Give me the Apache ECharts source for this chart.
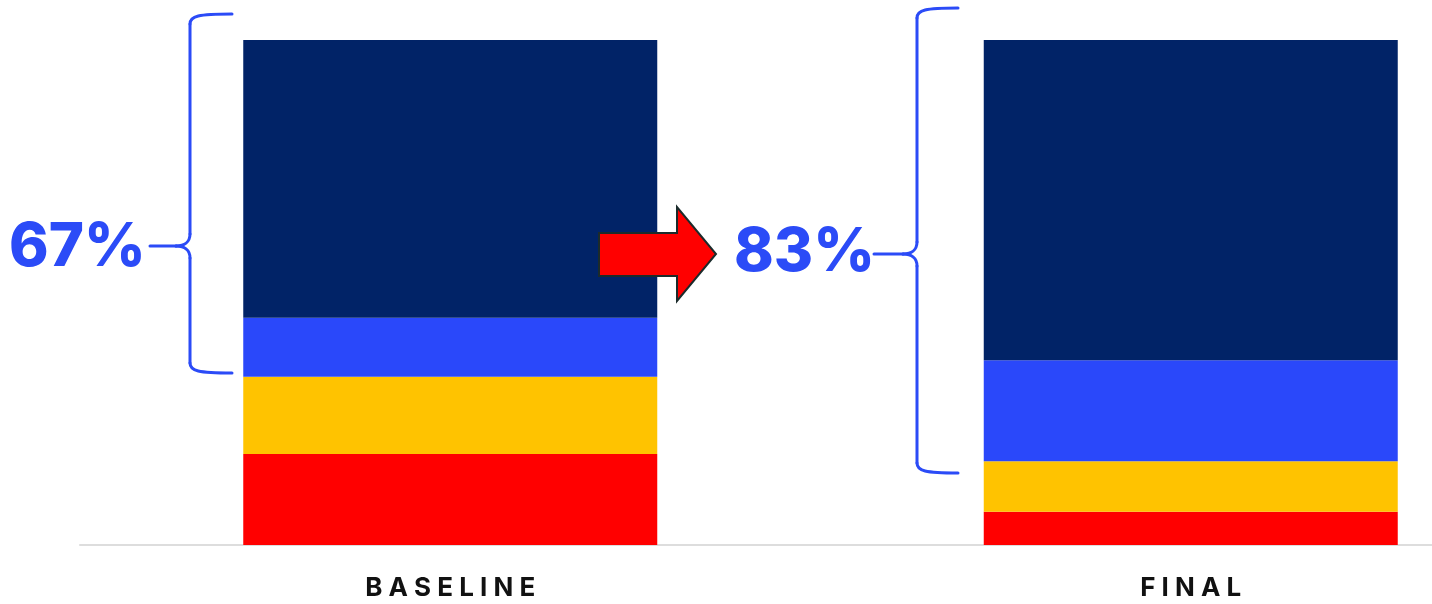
<!DOCTYPE html>
<html>
<head>
<meta charset="utf-8">
<script src="https://cdn.jsdelivr.net/npm/echarts@6/dist/echarts.min.js"></script>
<style>
  html, body { margin: 0; padding: 0; background: #fff; }
  #chart { width: 1432px; height: 604px; }
</style>
</head>
<body>
<div id="chart"></div>
<script>
// categories and stacked shares (percent), bottom to top
var categories = ['BASELINE', 'FINAL'];
var redShare    = [18, 6.6];
var yellowShare = [15.3, 10];
var blueShare   = [11.7, 20];
var navyShare   = [55, 63.4];

var blueText = '#2b4bf7';

var myChart;
document.addEventListener("DOMContentLoaded", function() {
    initChart();
});

// curly brace built from lines and curves
function brace(xv, top, tipY, bottom, hookX, tipX) {
    var st = { stroke: blueText, lineWidth: 3, fill: null, lineCap: 'round' };
    return [
        { type: 'bezierCurve', z: 100, shape: { x1: hookX, y1: top, cpx1: xv + 8, cpy1: top, cpx2: xv, cpy2: top + 2, x2: xv, y2: top + 10 }, style: st },
        { type: 'line', z: 100, shape: { x1: xv, y1: top + 10, x2: xv, y2: tipY - 12 }, style: st },
        { type: 'bezierCurve', z: 100, shape: { x1: xv, y1: tipY - 12, cpx1: xv, cpy1: tipY - 4, cpx2: xv - 6, cpy2: tipY, x2: xv - 14, y2: tipY }, style: st },
        { type: 'line', z: 100, shape: { x1: xv - 14, y1: tipY, x2: tipX, y2: tipY }, style: st },
        { type: 'bezierCurve', z: 100, shape: { x1: xv - 14, y1: tipY, cpx1: xv - 6, cpy1: tipY, cpx2: xv, cpy2: tipY + 4, x2: xv, y2: tipY + 12 }, style: st },
        { type: 'line', z: 100, shape: { x1: xv, y1: tipY + 12, x2: xv, y2: bottom - 10 }, style: st },
        { type: 'bezierCurve', z: 100, shape: { x1: xv, y1: bottom - 10, cpx1: xv, cpy1: bottom - 2, cpx2: xv + 8, cpy2: bottom, x2: hookX, y2: bottom }, style: st }
    ];
}

function initChart() {
    myChart = echarts.init(document.getElementById('chart'));

    // share held by the top two segments
    var topShare = categories.map(function (c, i) {
        return Math.round(navyShare[i] + blueShare[i]) + '%';
    });

    var graphics = []
        .concat(brace(190, 14, 246, 373, 232, 150))
        .concat(brace(917, 8, 254, 473, 958, 874));

    graphics.push({
        type: 'text', z: 100, x: 9, y: 248,
        style: { text: topShare[0], fill: blueText, font: '800 60px Inter', align: 'left', verticalAlign: 'middle' }
    });
    graphics.push({
        type: 'text', z: 100, x: 734, y: 253,
        style: { text: topShare[1], fill: blueText, font: '800 60px Inter', align: 'left', verticalAlign: 'middle' }
    });
    graphics.push({
        type: 'polygon', z: 100,
        shape: { points: [[599, 233], [677, 233], [677, 207], [716, 254], [677, 301], [677, 276], [599, 276]] },
        style: { fill: '#ff0000', stroke: '#1b2b2b', lineWidth: 2, lineJoin: 'miter' }
    });

    function seg(name, data, color) {
        return {
            name: name,
            type: 'bar',
            stack: 'total',
            barWidth: 414,
            data: data,
            itemStyle: { color: color },
            emphasis: { disabled: true }
        };
    }

    var option = {
        animation: false,
        grid: { left: 80, right: -129, top: 40, bottom: 59, outerBoundsMode: 'none', containLabel: false },
        xAxis: {
            type: 'category',
            data: categories,
            axisLine: { lineStyle: { color: '#dddddd', width: 2 } },
            axisTick: { show: false },
            axisLabel: {
                margin: 30,
                color: '#111111',
                fontFamily: 'Inter',
                fontWeight: 'bold',
                fontSize: 26,
                formatter: function (v) { return v.split('').join(' '); }
            }
        },
        yAxis: {
            type: 'value',
            min: 0,
            max: 100,
            show: false,
            splitLine: { show: false }
        },
        series: [
            seg('Red', redShare, '#ff0000'),
            seg('Yellow', yellowShare, '#ffc300'),
            seg('Blue', blueShare, '#2a48fa'),
            seg('Navy', navyShare, '#012367')
        ],
        graphic: graphics
    };

    myChart.setOption(option);
}
</script>
</body>
</html>
